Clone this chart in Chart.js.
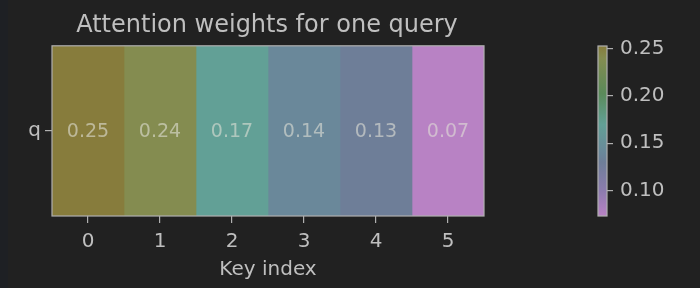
<!DOCTYPE html>
<html>
<head>
<meta charset="utf-8">
<script src="https://cdn.jsdelivr.net/npm/chart.js@4"></script>
<style>
  html, body { margin: 0; padding: 0; background: #212121; }
  body { width: 700px; height: 288px; position: relative; overflow: hidden; }
  #strip { position: absolute; left: 0; top: 0; width: 8px; height: 288px; background: #1e2024; }
  #main { position: absolute; left: 0; top: 0; }
  #cbar { position: absolute; left: 560px; top: 0; }
</style>
</head>
<body>
<div id="strip"></div>
<canvas id="main" width="534" height="288"></canvas>
<canvas id="cbar" width="140" height="288"></canvas>
<script>
// --- data ---
const keyIndex = [0, 1, 2, 3, 4, 5];
const queryLabels = ['q'];
const weights = [0.253, 0.24, 0.17, 0.14, 0.13, 0.073];
const cbarTicks = [0.10, 0.15, 0.20, 0.25];

const vmin = Math.min(...weights);
const vmax = Math.max(...weights);

// colormap stops (t = 0 at vmin, 1 at vmax)
const cmapPos = [0, 0.15, 0.317, 0.372, 0.539, 0.72, 0.928, 1];
const cmapCol = ['#b882c4', '#8c7cae', '#6e7e98', '#6a889a', '#62a096', '#5a8a5a', '#848c50', '#877c3c'];

const TEXT = '#bfbfbf';
const SPINE = '#b0b0b0';
const FONT = "'DejaVu Sans', sans-serif";

function hexToRgb(h) {
    return [1, 3, 5].map(i => parseInt(h.slice(i, i + 2), 16));
}

function colorFor(v) {
    const t = Math.min(1, Math.max(0, (v - vmin) / (vmax - vmin)));
    for (let i = 1; i < cmapPos.length; i++) {
        if (t <= cmapPos[i]) {
            const f = (t - cmapPos[i - 1]) / (cmapPos[i] - cmapPos[i - 1]);
            const a = hexToRgb(cmapCol[i - 1]), b = hexToRgb(cmapCol[i]);
            const c = a.map((x, k) => Math.round(x + (b[k] - x) * f));
            return `rgb(${c[0]},${c[1]},${c[2]})`;
        }
    }
    return cmapCol[cmapCol.length - 1];
}

// frame around the plot area
const framePlugin = {
    id: 'frame',
    afterDatasetsDraw(chart) {
        const { ctx, chartArea: a } = chart;
        ctx.save();
        ctx.strokeStyle = SPINE;
        ctx.lineWidth = 1.2;
        ctx.strokeRect(a.left, a.top, a.right - a.left, a.bottom - a.top);
        ctx.restore();
    }
};

// value annotations inside cells
const cellLabels = {
    id: 'cellLabels',
    afterDatasetsDraw(chart) {
        const ctx = chart.ctx;
        ctx.save();
        ctx.font = `19px ${FONT}`;
        ctx.fillStyle = 'rgba(225,225,215,0.6)';
        ctx.textAlign = 'center';
        ctx.textBaseline = 'middle';
        chart.data.datasets.forEach((ds, i) => {
            const el = chart.getDatasetMeta(i).data[0];
            const p = el.getCenterPoint();
            ctx.fillText(weights[i].toFixed(2), p.x, p.y + 1);
        });
        ctx.restore();
    }
};

Chart.defaults.color = TEXT;
Chart.defaults.font.family = FONT;

new Chart(document.getElementById('main'), {
    type: 'bar',
    data: {
        labels: queryLabels,
        datasets: keyIndex.map((k, i) => ({
            data: [[k - 0.5, k + 0.5]],
            backgroundColor: colorFor(weights[i]),
            borderWidth: 0,
            grouped: false,
            barPercentage: 1,
            categoryPercentage: 1
        }))
    },
    options: {
        indexAxis: 'y',
        responsive: false,
        animation: false,
        layout: { padding: 0 },
        plugins: {
            legend: { display: false },
            tooltip: { enabled: false },
            title: {
                display: true,
                text: 'Attention weights for one query',
                color: TEXT,
                font: { size: 24, weight: 'normal', lineHeight: 1.2 },
                padding: { top: 11, bottom: 6 }
            }
        },
        scales: {
            x: {
                type: 'linear',
                min: -0.5,
                max: 5.5,
                afterBuildTicks: s => { s.ticks = keyIndex.map(v => ({ value: v })); },
                afterFit: s => { s.height = 72; },
                ticks: { color: TEXT, font: { size: 20 }, padding: 7 },
                grid: { drawOnChartArea: false, drawTicks: true, tickLength: 7, color: SPINE, lineWidth: 1.2 },
                border: { display: false },
                title: { display: true, text: 'Key index', color: TEXT, font: { size: 20 }, padding: { top: 2, bottom: 6 } }
            },
            y: {
                type: 'category',
                afterFit: s => { s.width = 52; },
                ticks: { color: TEXT, font: { size: 20 }, padding: 4 },
                grid: { offset: false, drawOnChartArea: false, drawTicks: true, tickLength: 7, color: SPINE, lineWidth: 1.2 },
                border: { display: false }
            },
            // empty right-hand gutter so the title centres over the heatmap
            gutter: {
                type: 'category',
                axis: 'y',
                position: 'right',
                afterFit: s => { s.width = 50; },
                ticks: { display: false },
                grid: { display: false },
                border: { display: false }
            }
        }
    },
    plugins: [cellLabels, framePlugin]
});

// colorbar
new Chart(document.getElementById('cbar'), {
    type: 'bar',
    data: {
        labels: [''],
        datasets: [{
            data: [[vmin, vmax]],
            backgroundColor: ctx => {
                const a = ctx.chart.chartArea;
                if (!a) return cmapCol[0];
                const g = ctx.chart.ctx.createLinearGradient(0, a.bottom, 0, a.top);
                cmapPos.forEach((p, i) => g.addColorStop(p, cmapCol[i]));
                return g;
            },
            borderWidth: 0,
            barPercentage: 1,
            categoryPercentage: 1
        }]
    },
    options: {
        responsive: false,
        animation: false,
        layout: { padding: { left: 38, right: 0, top: 46, bottom: 72 } },
        plugins: { legend: { display: false }, tooltip: { enabled: false } },
        scales: {
            x: { display: false },
            y: {
                position: 'right',
                min: vmin,
                max: vmax,
                afterBuildTicks: s => { s.ticks = cbarTicks.map(v => ({ value: v })); },
                afterFit: s => { s.width = 93; },
                ticks: { color: TEXT, font: { size: 20 }, padding: 7, callback: v => v.toFixed(2) },
                grid: { drawOnChartArea: false, drawTicks: true, tickLength: 6, color: SPINE, lineWidth: 1.2 },
                border: { display: false }
            }
        }
    },
    plugins: [framePlugin]
});
</script>
</body>
</html>
